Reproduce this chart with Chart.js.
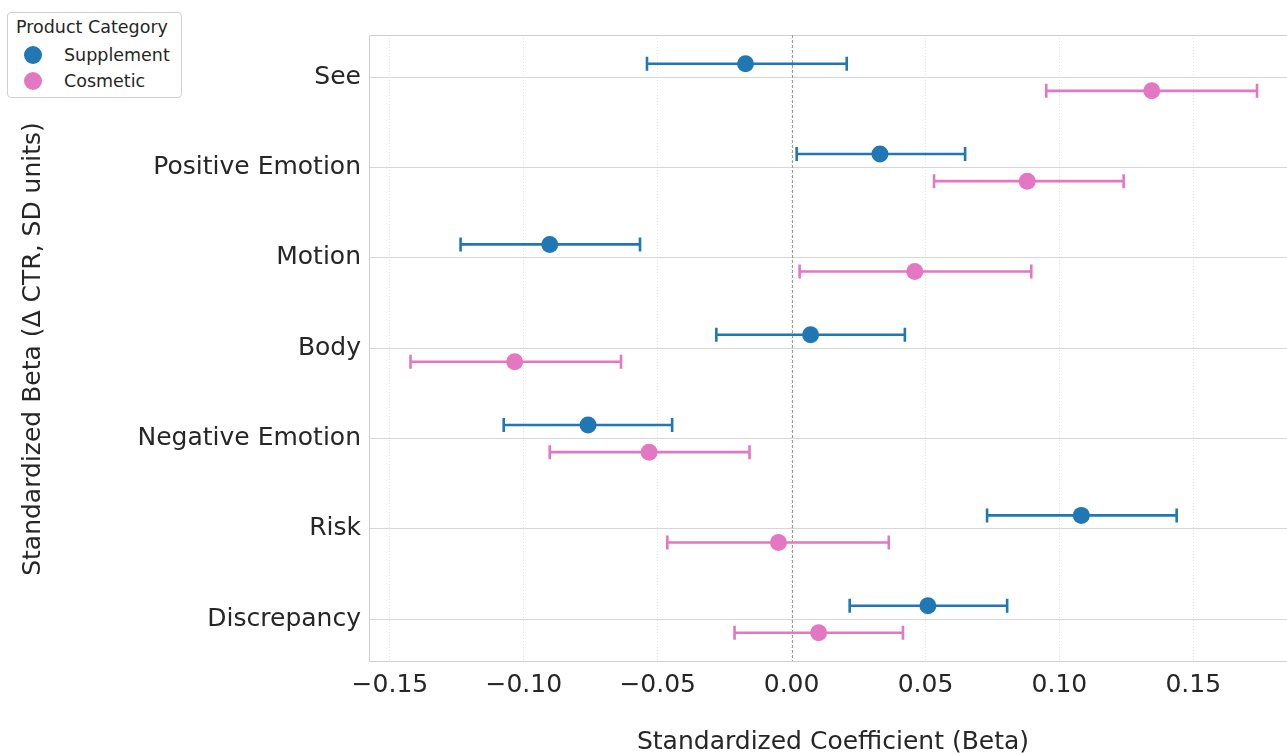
<!DOCTYPE html>
<html>
<head>
<meta charset="utf-8">
<script src="https://cdn.jsdelivr.net/npm/chart.js@4"></script>
<style>
  body { margin: 0; background: #fff; font-family: "DejaVu Sans", sans-serif; }
  #wrap { position: relative; width: 1287px; height: 753px; }
  #legend {
    position: absolute; left: 7px; top: 12px; width: 175px; height: 86px;
    border: 1px solid #d0d0d0; border-radius: 4px; background: #fff;
    color: #262626; font-size: 17.5px; box-sizing: border-box;
  }
  #legend .title { position: absolute; left: 8px; top: 4px; white-space: nowrap; }
  #legend .item { position: absolute; left: 16px; white-space: nowrap; }
  #legend .dot { display: inline-block; width: 18px; height: 18px; border-radius: 50%; vertical-align: middle; margin-right: 22px; }
  #legend .item span { vertical-align: middle; }
</style>
</head>
<body>
<div id="wrap">
  <canvas id="chart"></canvas>
  <div id="legend"></div>
</div>
<script>
const categories = ['See', 'Positive Emotion', 'Motion', 'Body', 'Negative Emotion', 'Risk', 'Discrepancy'];

const supplementBeta = [-0.0172, 0.0330, -0.0903, 0.0071, -0.0760, 0.1082, 0.0509];
const supplementLow  = [-0.0540, 0.0019, -0.1236, -0.0281, -0.1075, 0.0730, 0.0217];
const supplementHigh = [0.0206, 0.0648, -0.0566, 0.0423, -0.0446, 0.1438, 0.0805];

const cosmeticBeta = [0.1345, 0.0880, 0.0460, -0.1034, -0.0532, -0.0049, 0.0101];
const cosmeticLow  = [0.0951, 0.0532, 0.0030, -0.1423, -0.0903, -0.0464, -0.0213];
const cosmeticHigh = [0.1738, 0.1240, 0.0895, -0.0637, -0.0157, 0.0363, 0.0416];

const xTicks = [-0.15, -0.10, -0.05, 0.00, 0.05, 0.10, 0.15];

const groups = [
    { label: 'Supplement', color: '#1f77b4', beta: supplementBeta, low: supplementLow, high: supplementHigh, offset: -0.15 },
    { label: 'Cosmetic', color: '#e377c2', beta: cosmeticBeta, low: cosmeticLow, high: cosmeticHigh, offset: 0.15 },
];

const textColor = '#262626';
const font = 'DejaVu Sans';

// legend
const legendEl = document.getElementById('legend');
legendEl.innerHTML = '<div class="title">Product Category</div>' +
    groups.map((g, i) => `<div class="item" style="top:${31 + i * 26}px"><span class="dot" style="background:${g.color}"></span><span>${g.label}</span></div>`).join('');

const errorBars = {
    id: 'errorBars',
    beforeDatasetsDraw(chart) {
        const { ctx, chartArea, scales: { x, y } } = chart;
        ctx.save();
        // frame
        ctx.strokeStyle = '#d0d0d0';
        ctx.lineWidth = 1;
        ctx.beginPath();
        ctx.moveTo(chartArea.left + 0.5, chartArea.bottom);
        ctx.lineTo(chartArea.left + 0.5, chartArea.top + 0.5);
        ctx.lineTo(chartArea.right, chartArea.top + 0.5);
        ctx.stroke();
        // zero line
        const x0 = Math.round(x.getPixelForValue(0)) + 0.5;
        ctx.strokeStyle = '#9a9a9a';
        ctx.setLineDash([3, 2]);
        ctx.beginPath();
        ctx.moveTo(x0, chartArea.top);
        ctx.lineTo(x0, chartArea.bottom);
        ctx.stroke();
        ctx.setLineDash([]);
        // whiskers
        ctx.lineWidth = 2.6;
        groups.forEach(g => {
            ctx.strokeStyle = g.color;
            categories.forEach((c, i) => {
                const yp = y.getPixelForValue(i + g.offset);
                const xl = x.getPixelForValue(g.low[i]);
                const xh = x.getPixelForValue(g.high[i]);
                ctx.beginPath();
                ctx.moveTo(xl, yp);
                ctx.lineTo(xh, yp);
                ctx.moveTo(xl, yp - 7);
                ctx.lineTo(xl, yp + 7);
                ctx.moveTo(xh, yp - 7);
                ctx.lineTo(xh, yp + 7);
                ctx.stroke();
            });
        });
        ctx.restore();
    },
    afterDraw(chart) {
        const { ctx } = chart;
        ctx.save();
        ctx.fillStyle = textColor;
        ctx.font = `25px "${font}"`;
        ctx.textAlign = 'center';
        ctx.textBaseline = 'middle';
        ctx.fillText('Standardized Coefficient (Beta)', 833, 742);
        ctx.translate(33, 349);
        ctx.rotate(-Math.PI / 2);
        ctx.fillText('Standardized Beta (\u0394 CTR, SD units)', 0, 0);
        ctx.restore();
    }
};

new Chart(document.getElementById('chart'), {
    type: 'scatter',
    data: {
        datasets: groups.map(g => ({
            label: g.label,
            data: g.beta.map((v, i) => ({ x: v, y: i + g.offset })),
            backgroundColor: g.color,
            borderColor: g.color,
            pointRadius: 8.5,
            pointHoverRadius: 8.5,
            borderWidth: 0,
        })),
    },
    options: {
        responsive: true,
        maintainAspectRatio: false,
        animation: false,
        layout: { autoPadding: false, padding: { top: 35, left: 0, right: 0, bottom: 0 } },
        plugins: { legend: { display: false }, tooltip: { enabled: false } },
        scales: {
            x: {
                type: 'linear',
                min: -0.1578,
                max: 0.185,
                afterBuildTicks: s => { s.ticks = xTicks.map(v => ({ value: v })); },
                afterFit: s => { s.height = 92; s.paddingLeft = 0; s.paddingRight = 0; },
                ticks: {
                    color: textColor,
                    font: { family: font, size: 25 },
                    padding: 9,
                    callback: v => v.toFixed(2).replace('-', '\u2212'),
                },
                grid: { color: '#e2e2e2', drawTicks: false, lineWidth: 1 },
                border: { color: '#d0d0d0', dash: [1, 2], display: true },
            },
            y: {
                type: 'linear',
                reverse: true,
                min: -0.468,
                max: 6.462,
                afterBuildTicks: s => { s.ticks = categories.map((c, i) => ({ value: i })); },
                afterFit: s => { s.width = 369; },
                ticks: {
                    color: textColor,
                    font: { family: font, size: 25 },
                    padding: 8,
                    callback: v => categories[v],
                },
                grid: { color: '#d6d6d6', drawTicks: false, lineWidth: 1 },
                border: { display: false },
            },
        },
    },
    plugins: [errorBars],
});
</script>
</body>
</html>
